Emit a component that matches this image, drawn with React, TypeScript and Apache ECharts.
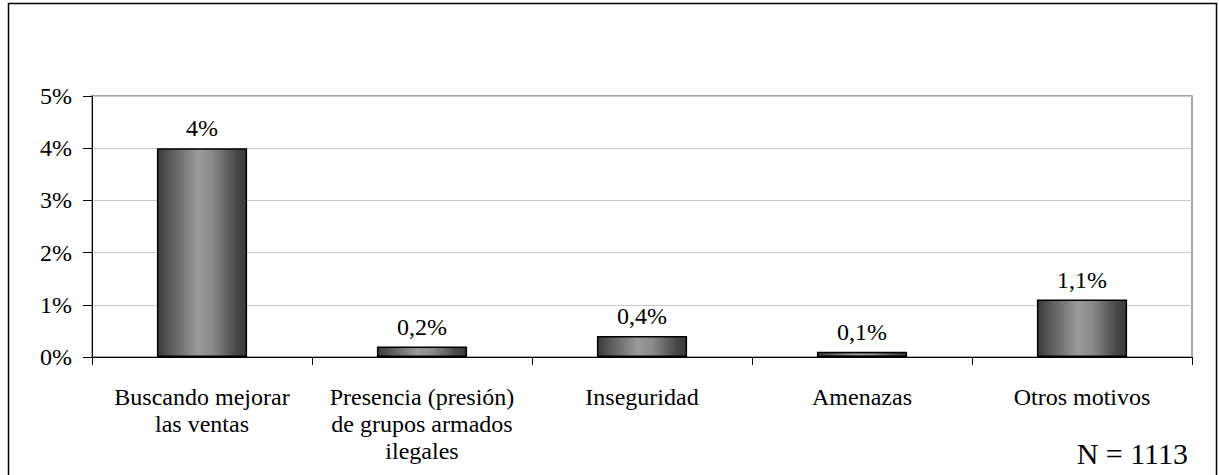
import React, { useEffect, useRef } from "react";
import * as echarts from "echarts";

const categories = [
  "Buscando mejorar\nlas ventas",
  "Presencia (presión)\nde grupos armados\nilegales",
  "Inseguridad",
  "Amenazas",
  "Otros motivos",
];
const values = [4, 0.2, 0.4, 0.1, 1.1];
const yMin = 0;
const yMax = 5;
const yInterval = 1;
const noteText = "N = 1113";

const FONT = "Liberation Serif";

export default function App() {
  const ref = useRef<HTMLDivElement>(null);
  useEffect(() => {
    document.body.style.margin = "0";
    if (!ref.current) return;
    const chart = echarts.init(ref.current, null, { renderer: "svg" });
    const barGradient = new echarts.graphic.LinearGradient(0, 0, 1, 0, [
      { offset: 0, color: "#3a3a3a" },
      { offset: 0.15, color: "#5c5c5c" },
      { offset: 0.45, color: "#9a9a9a" },
      { offset: 0.62, color: "#8a8a8a" },
      { offset: 0.88, color: "#4a4a4a" },
      { offset: 1, color: "#3a3a3a" },
    ]);
    chart.setOption({
      animation: false,
      backgroundColor: "#ffffff",
      textStyle: { fontFamily: FONT, fontSize: 24 },
      grid: {
        left: 92,
        right: 27,
        top: 96,
        bottom: 118,
        show: true,
        borderColor: "#8a8a8a",
        borderWidth: 1.5,
        containLabel: false,
      },
      xAxis: {
        type: "category",
        data: categories,
        boundaryGap: true,
        axisLine: { show: true, lineStyle: { color: "#000", width: 1.2 } },
        axisTick: { show: true, length: 8, alignWithLabel: false, lineStyle: { color: "#000", width: 1 } },
        axisLabel: {
          interval: 0,
          margin: 26,
          color: "#000",
          fontFamily: FONT,
          fontSize: 24,
          lineHeight: 27,
          align: "center",
        },
        splitLine: { show: false },
      },
      yAxis: {
        type: "value",
        min: yMin,
        max: yMax,
        interval: yInterval,
        axisLine: { show: true, lineStyle: { color: "#000", width: 1 } },
        axisTick: { show: true, inside: false, length: 9, lineStyle: { color: "#000", width: 1 } },
        axisLabel: {
          margin: 20,
          color: "#000",
          fontFamily: FONT,
          fontSize: 24,
          formatter: (v: number) => `${v}%`,
        },
        splitLine: { show: true, lineStyle: { color: "#c8c8c8", width: 1 } },
      },
      series: [
        {
          type: "bar",
          data: values,
          barWidth: "41%",
          itemStyle: { color: barGradient, borderColor: "#000", borderWidth: 1.5 },
          label: {
            show: true,
            position: "top",
            distance: 8,
            color: "#000",
            fontFamily: FONT,
            fontSize: 24,
            formatter: (p: any) => `${String(p.value).replace(".", ",")}%`,
          },
        },
      ],
      graphic: [
        {
          type: "rect",
          shape: { x: 8.5, y: 3.5, width: 1208, height: 520 },
          style: { fill: "none", stroke: "#000", lineWidth: 1.5 },
          silent: true,
        },
        {
          type: "text",
          right: 31,
          top: 438,
          style: { text: noteText, fill: "#000", fontFamily: FONT, fontSize: 30 },
        },
      ],
    });
    return () => chart.dispose();
  }, []);
  return <div ref={ref} style={{ width: 1219, height: 475 }} />;
}
